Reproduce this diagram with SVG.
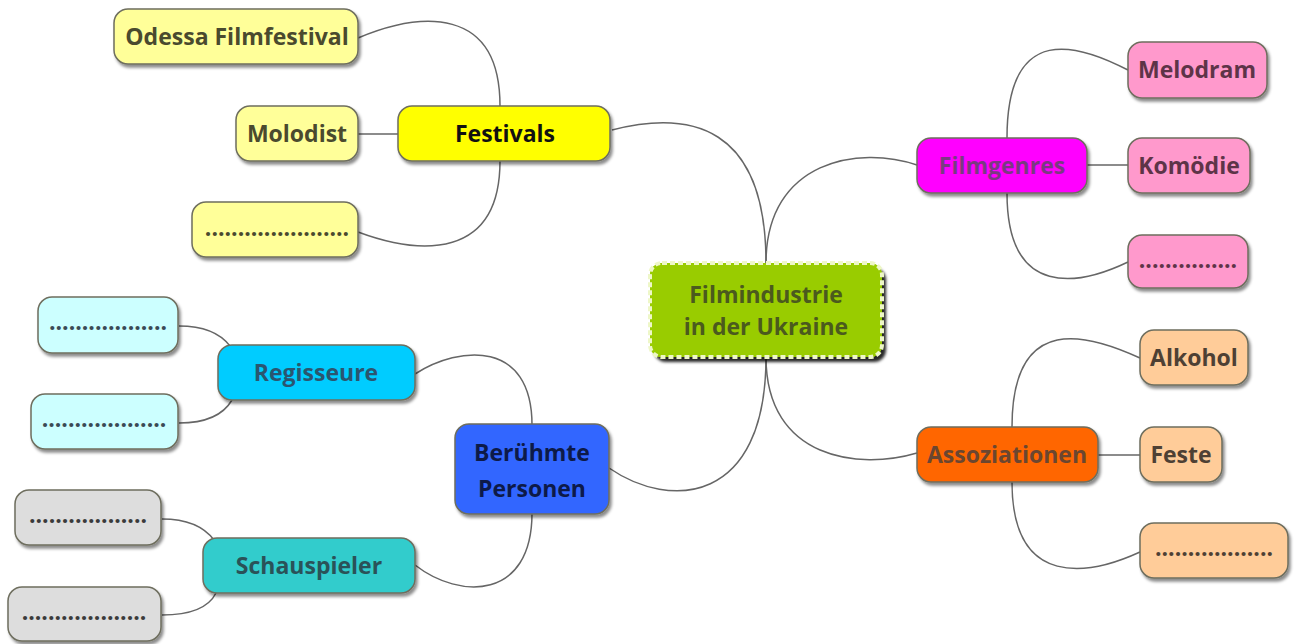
<svg xmlns="http://www.w3.org/2000/svg" width="1297" height="644" viewBox="0 0 1297 644">
<defs>
<filter id="sh" x="-10%" y="-10%" width="130%" height="140%">
<feDropShadow dx="2" dy="3" stdDeviation="1.5" flood-color="#000" flood-opacity="0.45"/>
</filter>
<filter id="sh2" x="-10%" y="-10%" width="130%" height="140%">
<feDropShadow dx="4" dy="5" stdDeviation="1.5" flood-color="#000" flood-opacity="0.85"/>
</filter>
<style>
.n{stroke:#6e6e5e;stroke-width:1.5;filter:url(#sh)}
.t{font-family:"Open Sans","Noto Sans",sans-serif;font-weight:bold;font-size:23px;text-anchor:middle;dominant-baseline:central}
.c path{fill:none;stroke:#666;stroke-width:1.5}
</style>
</defs>
<rect width="1297" height="644" fill="#fff"/>
<g class="c" id="connectors">
<path d="M612,130 C690,110 766,125 766,263"/>
<path d="M766,263 C766,160 860,145 917,165"/>
<path d="M766,357 C766,460 860,470 917,453"/>
<path d="M609,468 C670,510 766,505 766,357"/>
<path d="M358,38 C420,12 500,5 500,106"/>
<path d="M358,134 L399,134"/>
<path d="M500,161 C500,260 420,255 358,232"/>
<path d="M1128,70 C1080,45 1007,20 1007,138"/>
<path d="M1087,165 L1128,165"/>
<path d="M1007,193 C1007,300 1080,285 1128,262"/>
<path d="M1140,358 C1090,335 1012,310 1012,427"/>
<path d="M1098,455 L1140,455"/>
<path d="M1012,482 C1012,590 1090,575 1140,552"/>
<path d="M415,374 C460,345 532,340 532,425"/>
<path d="M532,513 C532,600 460,600 415,565"/>
<path d="M179,326 C205,326 220,333 230,346"/>
<path d="M179,423 C210,423 225,412 232,400"/>
<path d="M162,519 C190,519 205,528 214,540"/>
<path d="M162,615 C195,615 210,605 216,593"/>
</g>
<g id="center">
<rect x="650" y="263" width="232" height="94" rx="12" fill="#99cc00" filter="url(#sh2)"/>
<rect x="650" y="263" width="232" height="94" rx="12" fill="#99cc00" stroke="#eef7c8" stroke-width="4" stroke-dasharray="5 3"/>
<text class="t" x="766" y="294" fill="#4b5a1e" font-size="24">Filmindustrie</text>
<text class="t" x="766" y="326" fill="#4b5a1e" font-size="24">in der Ukraine</text>
</g>
<g id="festivals">
<rect class="n" x="398" y="106" width="212" height="55" rx="14" fill="#ffff00"/>
<text class="t" x="505" y="133" fill="#111">Festivals</text>
</g>
<g id="odessa">
<rect class="n" x="114" y="9" width="244" height="55" rx="14" fill="#ffff99"/>
<text class="t" x="237" y="36" fill="#4a4a2e">Odessa Filmfestival</text>
</g>
<g id="molodist">
<rect class="n" x="236" y="106" width="122" height="55" rx="14" fill="#ffff99"/>
<text class="t" x="297" y="133" fill="#4a4a2e">Molodist</text>
</g>
<g id="fest-dots">
<rect class="n" x="192" y="202" width="166" height="55" rx="14" fill="#ffff99"/>
<text class="t" x="277" y="227" fill="#4a4a2e">......................</text>
</g>
<g id="filmgenres">
<rect class="n" x="917" y="138" width="170" height="55" rx="14" fill="#ff00ff"/>
<text class="t" x="1002" y="165" fill="#7a3a82">Filmgenres</text>
</g>
<g id="melodram">
<rect class="n" x="1128" y="42" width="139" height="56" rx="14" fill="#ff99cc"/>
<text class="t" x="1197" y="69" fill="#5e3448">Melodram</text>
</g>
<g id="komoedie">
<rect class="n" x="1128" y="138" width="122" height="55" rx="14" fill="#ff99cc"/>
<text class="t" x="1189" y="165" fill="#5e3448">Komödie</text>
</g>
<g id="genre-dots">
<rect class="n" x="1128" y="235" width="120" height="53" rx="14" fill="#ff99cc"/>
<text class="t" x="1188" y="259" fill="#5e3448">...............</text>
</g>
<g id="assoziationen">
<rect class="n" x="917" y="427" width="181" height="55" rx="14" fill="#ff6600"/>
<text class="t" x="1007" y="454" fill="#6b4630">Assoziationen</text>
</g>
<g id="alkohol">
<rect class="n" x="1140" y="330" width="108" height="55" rx="14" fill="#ffcc99"/>
<text class="t" x="1194" y="357" fill="#4e4034">Alkohol</text>
</g>
<g id="feste">
<rect class="n" x="1140" y="427" width="82" height="55" rx="14" fill="#ffcc99"/>
<text class="t" x="1181" y="454" fill="#4e4034">Feste</text>
</g>
<g id="asso-dots">
<rect class="n" x="1140" y="523" width="148" height="55" rx="14" fill="#ffcc99"/>
<text class="t" x="1214" y="547" fill="#4e4034">..................</text>
</g>
<g id="beruehmte">
<rect class="n" x="455" y="424" width="154" height="90" rx="14" fill="#3366ff"/>
<text class="t" x="532" y="452" fill="#0d1a48">Berühmte</text>
<text class="t" x="532" y="488" fill="#0d1a48">Personen</text>
</g>
<g id="regisseure">
<rect class="n" x="218" y="345" width="197" height="55" rx="14" fill="#00ccff"/>
<text class="t" x="316" y="372" fill="#2a5670">Regisseure</text>
</g>
<g id="reg-dots1">
<rect class="n" x="38" y="297" width="140" height="56" rx="14" fill="#ccffff"/>
<text class="t" x="108" y="321" fill="#3a4a55">..................</text>
</g>
<g id="reg-dots2">
<rect class="n" x="31" y="394" width="147" height="55" rx="14" fill="#ccffff"/>
<text class="t" x="104" y="418" fill="#3a4a55">...................</text>
</g>
<g id="schauspieler">
<rect class="n" x="203" y="538" width="212" height="55" rx="14" fill="#33cccc"/>
<text class="t" x="309" y="565" fill="#2a5258">Schauspieler</text>
</g>
<g id="sch-dots1">
<rect class="n" x="15" y="490" width="146" height="55" rx="14" fill="#dddddd"/>
<text class="t" x="88" y="514" fill="#3a3a3a">..................</text>
</g>
<g id="sch-dots2">
<rect class="n" x="8" y="587" width="153" height="54" rx="14" fill="#dddddd"/>
<text class="t" x="84" y="611" fill="#3a3a3a">...................</text>
</g>
</svg>
